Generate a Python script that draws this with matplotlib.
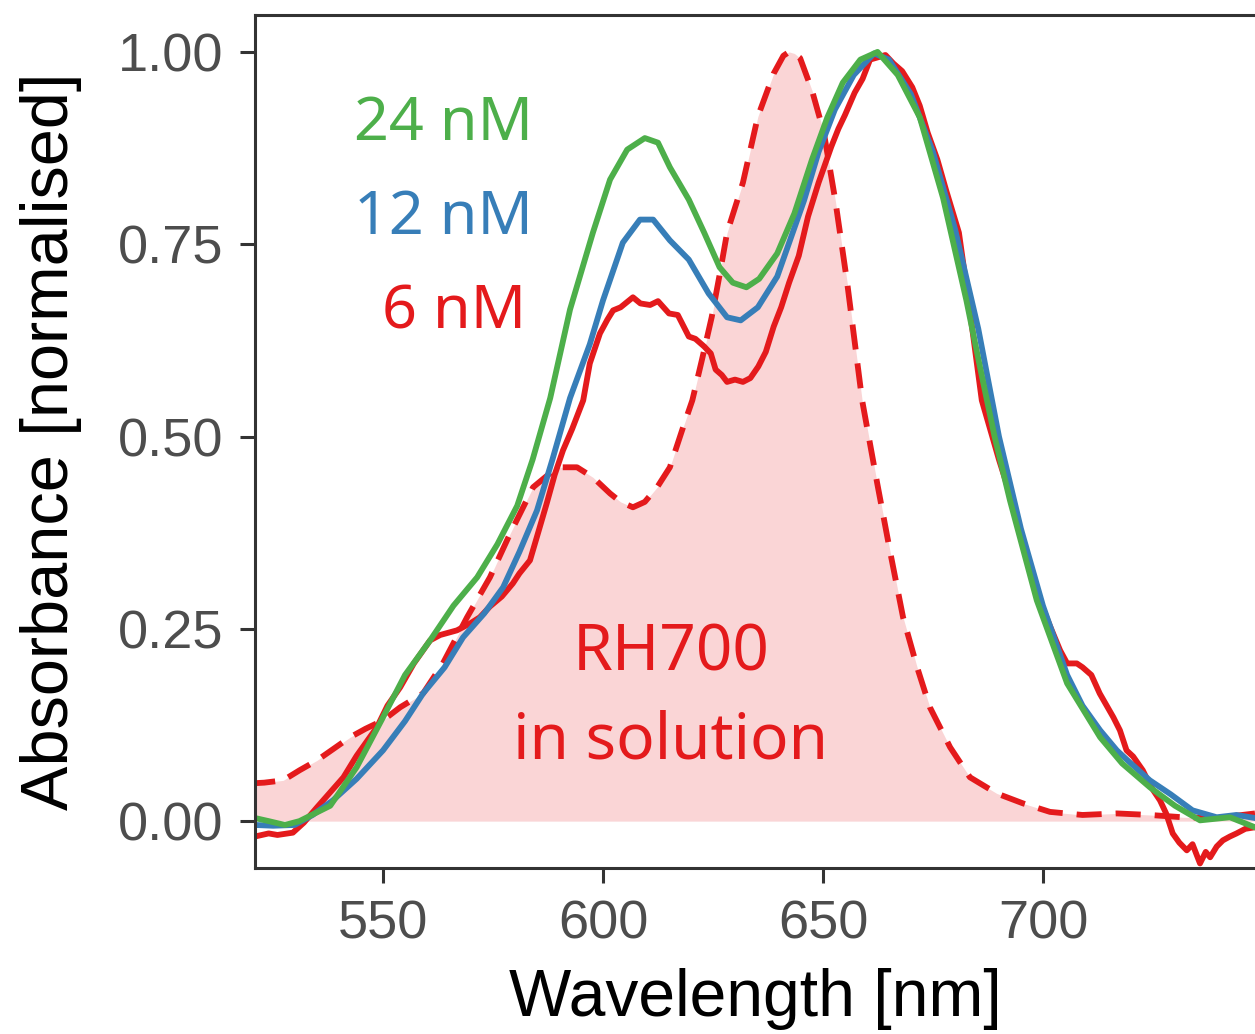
import matplotlib.pyplot as plt
import numpy as np

# 24 nM (green)
wl_24 = [520.9, 524, 527.7, 531, 538, 544, 550, 555, 560.7, 566, 571.4, 576, 580.5, 584, 588, 592.5, 597.7,
         601.6, 605.5, 609.5, 612.5, 615.2, 619.5, 623, 626.5, 629.5, 632.6, 635.5, 639.6, 643.5, 647.5, 651,
         654.5, 658.5, 662.4, 667, 672, 677.3, 682.6, 685.7, 689, 692.5, 698.6, 705.5, 713, 718, 724.3, 730,
         735.7, 742.5, 748.2]
ab_24 = [0.004, 0.0, -0.005, 0.0, 0.02, 0.07, 0.135, 0.19, 0.235, 0.28, 0.317, 0.36, 0.41, 0.47, 0.55, 0.665, 0.765,
         0.834, 0.873, 0.888, 0.882, 0.85, 0.808, 0.765, 0.72, 0.70, 0.694, 0.705, 0.738, 0.79, 0.86, 0.915,
         0.96, 0.99, 1.0, 0.97, 0.915, 0.81, 0.677, 0.59, 0.5, 0.417, 0.287, 0.179, 0.109, 0.075, 0.044, 0.02,
         0.001, 0.005, -0.008]

# 12 nM (blue)
wl_12 = [520.9, 525, 529.9, 534, 538.6, 544, 550, 555, 559.1, 564, 568.2, 573, 577.3, 581, 585, 588.5, 592.5,
         597, 600, 604.5, 608.4, 611.4, 615.2, 619.5, 624, 628.2, 631.3, 635.2, 639.6, 645.7, 649, 652.7, 657,
         661.6, 665, 670, 675, 680, 685.3, 690, 695, 700, 705.5, 709, 713, 716.8, 720, 724.3, 729, 734, 739.5,
         744, 748.2]
ab_12 = [-0.005, -0.006, -0.005, 0.008, 0.027, 0.055, 0.092, 0.13, 0.166, 0.2, 0.239, 0.27, 0.304, 0.35, 0.404, 0.47, 0.55,
         0.62, 0.677, 0.752, 0.782, 0.782, 0.755, 0.73, 0.686, 0.655, 0.651, 0.668, 0.708, 0.807, 0.87, 0.925, 0.97,
         0.998, 0.99, 0.945, 0.87, 0.77, 0.64, 0.5, 0.38, 0.28, 0.19, 0.15, 0.118, 0.092, 0.075, 0.053, 0.035, 0.014,
         0.005, 0.008, 0.004]

# 6 nM (red, solid)
wl_6 = [520.9, 524, 526, 529.5, 532, 535, 541, 544, 548.6, 551, 553.9, 557, 560.7, 563, 566.8, 569.8, 572, 574.3,
        577, 579.5, 581, 583.4, 585, 587.2, 589, 590.9, 593, 595.5, 597, 599.3, 601, 602.3, 604, 606.8, 608.5, 610.7,
        612.5, 615, 617, 619.5, 621, 623, 624.5, 625.6, 627, 628.2, 630, 631.8, 633.5, 635.3, 637, 638.8, 640.5,
        642.3, 644.5, 646.6, 649, 651.9, 653.5, 655, 657.2, 659, 660.7, 662.5, 664.2, 666, 668, 670.3, 672, 673.8,
        676, 678, 680.9, 683, 686.1, 690, 694.1, 697, 699.3, 701.5, 703.9, 705.5, 707.7, 709, 711, 712.9, 714.5,
        716, 717.5, 719, 720.5, 722.7, 724.5, 726.6, 728, 729.5, 731, 732.7, 734, 735.7, 737, 738, 739.5, 740.9,
        742.5, 744, 746, 748.2]
ab_6 = [-0.02, -0.016, -0.018, -0.015, -0.002, 0.018, 0.057, 0.085, 0.122, 0.15, 0.174, 0.205, 0.235, 0.242, 0.248, 0.257,
        0.265, 0.279, 0.292, 0.309, 0.322, 0.339, 0.37, 0.413, 0.45, 0.482, 0.51, 0.547, 0.595, 0.634, 0.652, 0.664,
        0.668, 0.681, 0.673, 0.671, 0.676, 0.66, 0.658, 0.63, 0.627, 0.617, 0.608, 0.587, 0.58, 0.571, 0.574, 0.571,
        0.576, 0.591, 0.61, 0.643, 0.668, 0.7, 0.735, 0.786, 0.83, 0.877, 0.9, 0.918, 0.947, 0.965, 0.99, 0.993,
        0.996, 0.985, 0.975, 0.954, 0.93, 0.895, 0.86, 0.82, 0.765, 0.68, 0.547, 0.47, 0.396, 0.33, 0.287, 0.255,
        0.222, 0.205, 0.205, 0.2, 0.19, 0.166, 0.15, 0.135, 0.118, 0.092, 0.084, 0.066, 0.045, 0.027, 0.01, -0.016,
        -0.028, -0.038, -0.03, -0.055, -0.04, -0.047, -0.033, -0.025, -0.02, -0.016, -0.01, -0.008]

# RH700 in solution (red, dashed + fill)
wl_sol = [519.8, 523, 527.3, 531, 535, 539, 542.5, 546, 550, 553.9, 559.1, 563.6, 569.1, 574.3, 578.9, 584.1,
          589.6, 594.1, 597.7, 601.6, 604, 606.8, 609.5, 612.3, 615.2, 618.2, 620.3, 622.5, 624.7, 626.5, 628.2,
          631.8, 635.2, 638.8, 641, 642.3, 643.5, 644.8, 647.5, 650.2, 652.8, 655.5, 658.9, 662.3, 665.2, 668.2,
          671.4, 674.3, 678.9, 683.4, 689.5, 695.5, 701.6, 709, 716.8, 724.3, 731.8, 739.5, 748.2]
ab_sol = [0.049, 0.05, 0.053, 0.066, 0.079, 0.095, 0.109, 0.12, 0.131, 0.148, 0.166, 0.205, 0.265, 0.317, 0.374, 0.434,
          0.46, 0.46, 0.447, 0.426, 0.415, 0.408, 0.415, 0.434, 0.46, 0.512, 0.547, 0.6, 0.655, 0.71, 0.765,
          0.83, 0.916, 0.972, 0.995, 1.0, 0.998, 0.992, 0.95, 0.895, 0.807, 0.7, 0.547, 0.44, 0.352, 0.265,
          0.2, 0.148, 0.096, 0.057, 0.036, 0.023, 0.012, 0.008, 0.01, 0.008, 0.005, 0.004, 0.01]

green = '#4DAF4A'
blue = '#377EB8'
red = '#E41A1C'

fig = plt.figure(figsize=(12.55, 10.34), dpi=100)
ax = fig.add_axes([0.2032, 0.1605, 0.7968, 0.825])

lw = 4.2
ax.fill_between(wl_sol, 0, np.clip(ab_sol, 0, None), color=red, alpha=0.18, linewidth=0)
ax.plot(wl_sol, ab_sol, color=red, lw=lw, dashes=(4.3, 2.4))
ax.plot(wl_6, ab_6, color=red, lw=lw)
ax.plot(wl_12, ab_12, color=blue, lw=lw)
ax.plot(wl_24, ab_24, color=green, lw=lw)

ax.set_xlim(520.9, 748.2)
ax.set_ylim(-0.061, 1.048)
ax.set_xticks([550, 600, 650, 700])
ax.set_yticks([0, 0.25, 0.5, 0.75, 1.0])
ax.set_yticklabels(['0.00', '0.25', '0.50', '0.75', '1.00'])

for s in ['left', 'bottom', 'top']:
    ax.spines[s].set_linewidth(2.2)
    ax.spines[s].set_color('#333333')
ax.spines['right'].set_visible(False)
ax.tick_params(length=10.8, width=2.2, color='#333333', labelcolor='#4D4D4D',
               labelsize=39, pad=12, labelfontfamily='Liberation Sans')

ax.set_xlabel('Wavelength [nm]', fontsize=47.5, family='Liberation Sans', labelpad=13)
ax.set_ylabel('Absorbance [normalised]', fontsize=48, family='Liberation Sans', labelpad=26)

tf = 'Noto Sans'
ax.text(584, 0.905, '24 nM', color=green, fontsize=44, family=tf, ha='right', va='center')
ax.text(584, 0.783, '12 nM', color=blue, fontsize=44, family=tf, ha='right', va='center')
ax.text(582.5, 0.66, '6 nM', color=red, fontsize=44, family=tf, ha='right', va='center')
ax.text(615.4, 0.218, 'RH700', color=red, fontsize=46, family=tf, ha='center', va='center')
ax.text(615.4, 0.103, 'in solution', color=red, fontsize=46, family=tf, ha='center', va='center')

fig.savefig('out.png', dpi=100)
